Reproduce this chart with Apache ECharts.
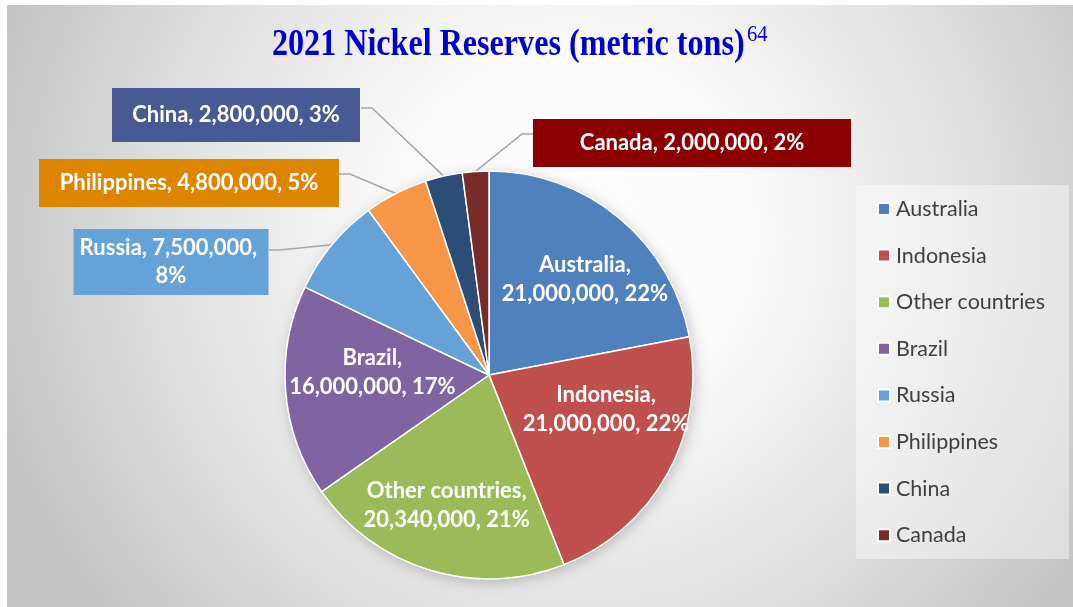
<!DOCTYPE html>
<html>
<head>
<meta charset="utf-8">
<title>2021 Nickel Reserves</title>
<script src="https://cdn.jsdelivr.net/npm/echarts@6/dist/echarts.min.js"></script>
<style>
  html, body { margin: 0; padding: 0; background: #ffffff; }
  #chart { width: 1073px; height: 607px; }
</style>
</head>
<body>
<div id="chart"></div>
<script>
// Nickel reserves by country, 2021 (metric tons)
const countries = ['Australia', 'Indonesia', 'Other countries', 'Brazil', 'Russia', 'Philippines', 'China', 'Canada'];
const reserves = [21000000, 21000000, 20340000, 16000000, 7500000, 4800000, 2800000, 2000000];
const sliceColors = ['#4F81BD', '#C0504D', '#9BBB59', '#8064A2', '#64A2D8', '#F79646', '#2C4D75', '#772C2A'];

const titleText = '2021 Nickel Reserves (metric tons)';
const titleNote = '64';

// Slices whose labels sit in coloured callout boxes beside the pie
const callouts = {
  'China':       { fill: '#485A94', w: 248, pad: [13, 0], cx: 236, cy: 115, ex: 361, ey: 108, dir: 1 },
  'Philippines': { fill: '#DE8500', w: 300, pad: [10, 0], cx: 189, cy: 183, ex: 339, ey: 174, dir: 1 },
  'Russia':      { fill: '#64A2D8', w: 195, pad: [5, 0],  cx: 171, cy: 262, ex: 269, ey: 250, dir: 1 },
  'Canada':      { fill: '#8B0000', w: 318, pad: [10, 0], cx: 692, cy: 143, ex: 533, ey: 134, dir: -1 }
};
// Small nudges for the labels drawn inside the large slices
const innerShift = {
  'Australia': [29, -15],
  'Indonesia': [25, -16],
  'Other countries': [-12, 30],
  'Brazil': [-12, -11]
};

const labelFont = 'Lato, "Open Sans", sans-serif';
const serifFont = '"Liberation Serif", "Times New Roman", serif';

const seriesData = countries.map(function (name, i) {
  const item = { name: name, value: reserves[i], itemStyle: { color: sliceColors[i] } };
  const c = callouts[name];
  if (c) {
    item.label = {
      position: 'outside',
      backgroundColor: c.fill,
      width: c.w,
      padding: c.pad,
      lineHeight: 28,
      overflow: 'break',
      align: 'center'
    };
    item.labelLine = { show: true };
  } else {
    item.label = { position: 'inside', lineHeight: 29 };
    item.labelLine = { show: false };
  }
  return item;
});

function formatNumber(v) {
  return v.toLocaleString('en-US');
}

const chart = echarts.init(document.getElementById('chart'), null, { renderer: 'canvas' });

const option = {
  animation: false,
  graphic: [
    {
      type: 'rect',
      z: -20,
      silent: true,
      shape: { x: 7, y: 5, width: 1066, height: 602 },
      style: {
        fill: new echarts.graphic.RadialGradient(0.53, 0.38, 1.0, [
          { offset: 0, color: '#ffffff' },
          { offset: 0.3, color: '#fafafa' },
          { offset: 0.65, color: '#e2e2e2' },
          { offset: 1, color: '#c4c4c4' }
        ])
      }
    },
    {
      type: 'rect',
      z: -10,
      silent: true,
      shape: { x: 856, y: 185, width: 213, height: 374 },
      style: { fill: 'rgba(255,255,255,0.42)' }
    },
    {
      // chart title, set in a narrow bold serif
      type: 'text',
      x: 272,
      y: 45,
      scaleX: 0.845,
      silent: true,
      style: {
        text: titleText,
        font: 'bold 38px ' + serifFont,
        fill: '#0000CC',
        align: 'left',
        verticalAlign: 'middle'
      }
    },
    {
      // superscript note marker after the title
      type: 'text',
      x: 747,
      y: 35,
      scaleX: 0.86,
      silent: true,
      style: {
        text: titleNote,
        font: '24px ' + serifFont,
        fill: '#0000CC',
        align: 'left',
        verticalAlign: 'middle'
      }
    }
  ],
  legend: {
    orient: 'vertical',
    left: 877,
    top: 197,
    padding: 0,
    itemWidth: 12,
    itemHeight: 12,
    itemGap: 22.6,
    icon: 'rect',
    data: countries,
    textStyle: {
      fontFamily: labelFont,
      fontSize: 21.5,
      color: '#404040',
      lineHeight: 24,
      padding: [0, 0, 0, 1]
    }
  },
  series: [
    {
      // soft drop shadow under the whole pie
      type: 'pie',
      silent: true,
      z: 1,
      center: [489, 375],
      radius: 204,
      label: { show: false },
      labelLine: { show: false },
      itemStyle: {
        color: '#ffffff',
        shadowBlur: 14,
        shadowColor: 'rgba(0,0,0,0.22)',
        shadowOffsetX: 2,
        shadowOffsetY: 3
      },
      data: [{ name: '', value: 1 }],
      legendHoverLink: false,
      tooltip: { show: false }
    },
    {
      type: 'pie',
      z: 2,
      center: [489, 375],
      radius: 204,
      startAngle: 90,
      clockwise: true,
      percentPrecision: 0,
      avoidLabelOverlap: false,
      itemStyle: { borderColor: '#ffffff', borderWidth: 1.5 },
      label: {
        show: true,
        color: '#ffffff',
        fontFamily: labelFont,
        fontWeight: 'bold',
        fontSize: 22,
        formatter: function (p) {
          const sep = callouts[p.name] ? ', ' : ',\n';
          return p.name + sep + formatNumber(p.value) + ', ' + p.percent + '%';
        }
      },
      labelLine: {
        lineStyle: { color: '#A6A6A6', width: 1.5 }
      },
      labelLayout: function (p) {
        const name = countries[p.dataIndex];
        const c = callouts[name];
        if (c) {
          const start = p.labelLinePoints ? p.labelLinePoints[0] : null;
          const pts = start ? [start, [c.ex + c.dir * 11, c.ey], [c.ex, c.ey]] : undefined;
          return {
            x: c.cx,
            y: c.cy,
            align: 'center',
            verticalAlign: 'middle',
            labelLinePoints: pts
          };
        }
        const s = innerShift[name] || [0, 0];
        return { dx: s[0], dy: s[1] };
      },
      data: seriesData
    }
  ]
};

chart.setOption(option);
</script>
</body>
</html>
